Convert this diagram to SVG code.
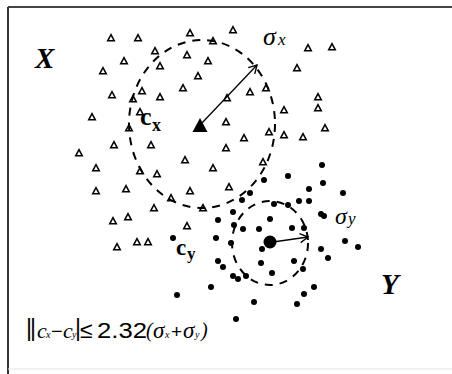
<svg xmlns="http://www.w3.org/2000/svg" xmlns:xlink="http://www.w3.org/1999/xlink" width="452" height="374" viewBox="0 0 452 374">
<style>
.tri{fill:#fff;stroke:#000;stroke-width:1.5}
.dot{fill:#000}
.ring{fill:none;stroke:#000;stroke-width:2;stroke-dasharray:8 7}
.arr{fill:none;stroke:#000;stroke-width:1.3;marker-end:url(#ah)}
.lab{font-family:"Liberation Serif",serif;font-weight:bold;font-style:italic;font-size:29px;fill:#000}
.c{font-family:"Liberation Serif",serif;font-weight:bold;fill:#000}
.sg{font-family:"Liberation Serif",serif;font-style:italic;fill:#000}
.sn{font-family:"Liberation Sans",sans-serif;fill:#000}
</style>
<defs>
<path id="t" class="tri" d="M0,-3.3 L3.3,2.8 L-3.3,2.8 Z"/>
<marker id="ah" markerWidth="12" markerHeight="12" refX="10" refY="6" orient="auto" markerUnits="userSpaceOnUse">
<path d="M2,1.5 L10,6 L2,10.5" fill="none" stroke="#000" stroke-width="1.4"/>
</marker>
</defs>
<rect width="452" height="374" fill="#fff"/>
<g id="frame">
<line x1="8" y1="7" x2="452" y2="7" stroke="#444" stroke-width="2"/>
<line x1="8" y1="7" x2="8" y2="374" stroke="#333" stroke-width="2"/>
<line x1="8" y1="369" x2="452" y2="369" stroke="#e4e4e4" stroke-width="1"/>
</g>
<g id="clusterX">
<g id="pointsX">
<use xlink:href="#t" x="111" y="38"/><use xlink:href="#t" x="138" y="38"/><use xlink:href="#t" x="190" y="33"/><use xlink:href="#t" x="213" y="41"/>
<use xlink:href="#t" x="155" y="51"/><use xlink:href="#t" x="124" y="61"/><use xlink:href="#t" x="160" y="66"/><use xlink:href="#t" x="187" y="55"/>
<use xlink:href="#t" x="208" y="61"/><use xlink:href="#t" x="103" y="71"/><use xlink:href="#t" x="198" y="76"/><use xlink:href="#t" x="142" y="91"/>
<use xlink:href="#t" x="183" y="88"/><use xlink:href="#t" x="112" y="95"/><use xlink:href="#t" x="160" y="97"/><use xlink:href="#t" x="133" y="99"/>
<use xlink:href="#t" x="140" y="112"/><use xlink:href="#t" x="92" y="117"/><use xlink:href="#t" x="129" y="128"/><use xlink:href="#t" x="114" y="145"/>
<use xlink:href="#t" x="151" y="145"/><use xlink:href="#t" x="79" y="153"/><use xlink:href="#t" x="96" y="168"/><use xlink:href="#t" x="140" y="171"/>
<use xlink:href="#t" x="157" y="174"/><use xlink:href="#t" x="185" y="160"/><use xlink:href="#t" x="213" y="168"/><use xlink:href="#t" x="226" y="122"/>
<use xlink:href="#t" x="244" y="138"/><use xlink:href="#t" x="269" y="132"/><use xlink:href="#t" x="284" y="135"/><use xlink:href="#t" x="226" y="148"/>
<use xlink:href="#t" x="263" y="162"/><use xlink:href="#t" x="126" y="189"/><use xlink:href="#t" x="190" y="191"/><use xlink:href="#t" x="229" y="187"/>
<use xlink:href="#t" x="171" y="198"/><use xlink:href="#t" x="203" y="208"/><use xlink:href="#t" x="154" y="208"/><use xlink:href="#t" x="128" y="217"/>
<use xlink:href="#t" x="187" y="226"/><use xlink:href="#t" x="137" y="242"/><use xlink:href="#t" x="148" y="242"/><use xlink:href="#t" x="233" y="30"/>
<use xlink:href="#t" x="308" y="48"/><use xlink:href="#t" x="332" y="47"/><use xlink:href="#t" x="297" y="68"/><use xlink:href="#t" x="266" y="88"/>
<use xlink:href="#t" x="250" y="92"/><use xlink:href="#t" x="227" y="98"/><use xlink:href="#t" x="318" y="97"/><use xlink:href="#t" x="318" y="108"/>
<use xlink:href="#t" x="284" y="110"/><use xlink:href="#t" x="303" y="137"/><use xlink:href="#t" x="325" y="128"/><use xlink:href="#t" x="96" y="191"/>
<use xlink:href="#t" x="113" y="221"/><use xlink:href="#t" x="117" y="247"/>
</g>
<ellipse id="ringX" class="ring" cx="202" cy="124" rx="73" ry="84"/>
<path id="centroidX" d="M200,118 L207.5,132 L192.5,132 Z" fill="#000"/>
<text class="lab" x="35" y="68">X</text>
<text class="c" x="140" y="125" font-size="26">c</text><text class="c" x="152" y="131" font-size="18">x</text>
<text class="sg" x="263" y="45" font-size="26">σ</text><text class="sg" x="278" y="45" font-size="17">x</text>
</g>
<g id="clusterY">
<g id="pointsY" class="dot">
<circle cx="322" cy="165" r="3"/><circle cx="288" cy="176" r="3"/><circle cx="323" cy="183" r="3"/><circle cx="264" cy="180" r="3"/>
<circle cx="250" cy="193" r="3"/><circle cx="242" cy="200" r="3"/><circle cx="274" cy="204" r="3"/><circle cx="288" cy="205" r="3"/>
<circle cx="299" cy="201" r="3"/><circle cx="309" cy="201" r="3"/><circle cx="309" cy="189" r="3"/><circle cx="343" cy="193" r="3"/>
<circle cx="233" cy="212" r="3"/><circle cx="218" cy="220" r="3"/><circle cx="270" cy="219" r="3"/><circle cx="234" cy="225" r="3"/>
<circle cx="243" cy="229" r="3"/><circle cx="259" cy="229" r="3"/><circle cx="292" cy="228" r="3"/><circle cx="304" cy="228" r="3"/>
<circle cx="321" cy="214" r="3"/><circle cx="324" cy="216" r="3"/><circle cx="216" cy="238" r="3"/><circle cx="173" cy="238" r="3"/>
<circle cx="231" cy="243" r="3"/><circle cx="262" cy="249" r="3"/><circle cx="345" cy="241" r="3"/><circle cx="358" cy="247" r="3"/>
<circle cx="321" cy="249" r="3"/><circle cx="328" cy="258" r="3"/><circle cx="261" cy="263" r="3"/><circle cx="294" cy="261" r="3"/>
<circle cx="303" cy="269" r="3"/><circle cx="272" cy="273" r="3"/><circle cx="233" cy="276" r="3"/><circle cx="238" cy="279" r="3"/>
<circle cx="246" cy="276" r="3"/><circle cx="314" cy="287" r="3"/><circle cx="304" cy="294" r="3"/><circle cx="297" cy="304" r="3"/>
<circle cx="254" cy="302" r="3"/><circle cx="236" cy="319" r="3"/><circle cx="218" cy="261" r="3"/><circle cx="223" cy="267" r="3"/>
<circle cx="211" cy="287" r="3"/><circle cx="177" cy="295" r="3"/>
</g>
<ellipse id="ringY" class="ring" cx="270" cy="243" rx="38" ry="42"/>
<circle id="centroidY" cx="270" cy="242" r="6.5" fill="#000"/>
<text class="lab" x="381" y="294">Y</text>
<text class="c" x="176" y="255" font-size="23">c</text><text class="c" x="187" y="259" font-size="17">y</text>
<text class="sg" x="335" y="224" font-size="24">σ</text><text class="sg" x="348" y="224" font-size="17">y</text>
</g>
<g id="connectors">
<line class="arr" x1="201" y1="124" x2="257" y2="65"/>
<line class="arr" x1="273" y1="242" x2="308" y2="237"/>
</g>
<g id="formula">
<text class="sn" x="26" y="336" font-size="23" letter-spacing="-2">||</text>
<text class="sg" x="37" y="338" font-size="22">c</text><text class="sg" x="46" y="338" font-size="10">x</text>
<text class="sn" x="51" y="338" font-size="20">−</text>
<text class="sg" x="63" y="338" font-size="22">c</text><text class="sg" x="72" y="338" font-size="10">y</text>
<text class="sn" x="75" y="336" font-size="23">|</text>
<text class="sn" x="80" y="338" font-size="23">≤</text>
<text class="sn" x="97" y="338" font-size="22" textLength="50" lengthAdjust="spacingAndGlyphs">2.32</text>
<text class="sg" x="146" y="337" font-size="20">(</text>
<text class="sg" x="153" y="338" font-size="23">σ</text><text class="sg" x="165" y="338" font-size="10">x</text>
<text class="sn" x="171" y="338" font-size="19">+</text>
<text class="sg" x="183" y="338" font-size="23">σ</text><text class="sg" x="195" y="338" font-size="10">y</text>
<text class="sg" x="201" y="337" font-size="20">)</text>
</g>
</svg>
